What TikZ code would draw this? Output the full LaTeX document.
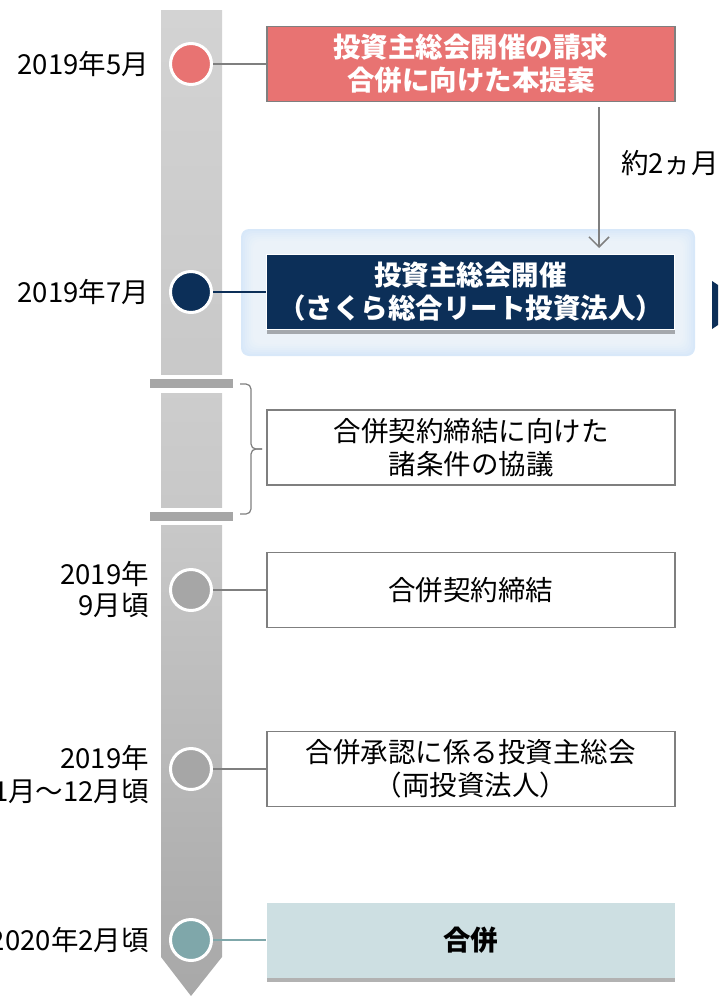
\documentclass[tikz,border=0pt]{standalone}
\usepackage{fontspec}
\setmainfont{Noto Sans CJK JP}
\usetikzlibrary{positioning,arrows.meta,shadows}
\definecolor{salmon}{HTML}{E87372}
\definecolor{navy}{HTML}{0C2F58}
\definecolor{framegray}{HTML}{7F7F7F}
\definecolor{dotgray}{HTML}{A6A6A6}
\definecolor{tealdot}{HTML}{7FA7AA}
\definecolor{mergefill}{HTML}{CDDFE2}
\definecolor{panelblue}{HTML}{D8E8F9}
\definecolor{barlight}{HTML}{D3D3D3}
\definecolor{barmid}{HTML}{C8C8C8}
\definecolor{bardark}{HTML}{A8A8A8}

\begin{document}
\begin{tikzpicture}[x=1pt, y=-1pt, font=\fontsize{27.5}{33}\selectfont, node distance=53pt,
  dot/.style={circle, draw=white, line width=3pt, minimum size=41pt, inner sep=0pt},
  box/.style={rectangle, draw=framegray, line width=1.5pt, minimum width=408pt, minimum height=75pt, align=center, inner sep=2pt},
  datelabel/.style={align=right, inner sep=0pt},
  link/.style={draw=framegray, line width=1.5pt},
  lag/.style={draw=framegray, line width=1.5pt, -{Straight Barb[length=10pt, width=20pt]}},
  lift/.style={drop shadow={shadow xshift=0pt, shadow yshift=-4pt, opacity=0.3, fill=black}}]
  \useasboundingbox (0,0) rectangle (718,996);
  % time bar
  \shade[top color=barlight, bottom color=barlight!95!black] (161,10) rectangle (222,374);
  \shade[top color=barlight!97!black, bottom color=barmid] (161,393) rectangle (222,507);
  \shade[top color=barmid, bottom color=bardark] (161,525) -- (222,525) -- (222,957) -- (191,996) -- (161,957) -- cycle;
  \fill[dotgray] (150,379) rectangle (233,388);
  \fill[dotgray] (150,512) rectangle (233,521);
  % highlight
  \fill[panelblue, rounded corners=8pt] (241,229) rectangle (695,356);
  \foreach \i in {1,...,6}
    \fill[white, opacity=0.12, rounded corners=8pt] (241+2*\i,229+2*\i) rectangle (695-2*\i,356-2*\i);
  \fill[navy] (712,281) -- (718,285) -- (718,325) -- (712,329) -- cycle;

  \node[dot, fill=salmon] (c1) at (191,64) {};
  \node[dot, fill=navy] (c2) at (191,292) {};
  \node[dot, fill=dotgray] (c3) at (191,590) {};
  \node[dot, fill=dotgray] (c4) at (191,769) {};
  \node[dot, fill=tealdot] (c5) at (191,940) {};

  \node[datelabel, left=20pt of c1] (d1) {2019年5月};
  \node[datelabel, left=20pt of c2] (d2) {2019年7月};
  \node[datelabel, left=20pt of c3] (d3) {2019年\\[-2pt]9月頃};
  \node[datelabel, left=20pt of c4, yshift=-5pt] (d4) {2019年\\11月～12月頃};
  \node[datelabel, left=20pt of c5] (d5) {2020年2月頃};

  \node[box, fill=salmon, text=white, font=\fontsize{27.5}{33}\selectfont\bfseries, right=of c1] (b1) {投資主総会開催の請求\\合併に向けた本提案};
  \node[box, fill=navy, draw=white, line width=1pt, text=white, font=\fontsize{27.5}{33}\selectfont\bfseries, lift, right=of c2] (b2) {投資主総会開催\\（さくら総合リート投資法人）};
  \node[box] (b3) at (471,447.5) {合併契約締結に向けた\\諸条件の協議};
  \node[box, right=of c3] (b4) {合併契約締結};
  \node[box, right=of c4] (b5) {合併承認に係る投資主総会\\（両投資法人）};
  \node[box, draw=none, fill=mergefill, font=\fontsize{27.5}{33}\selectfont\bfseries, lift, right=of c5] (b6) {合併};

  \draw[link] (c1) -- (b1);
  \draw[link, draw=navy] (c2) -- (b2);
  \draw[link] (c3) -- (b4);
  \draw[link] (c4) -- (b5);
  \draw[link, draw=tealdot] (c5) -- (b6);

  \coordinate (lagx) at (599,0);
  \draw[lag] ([yshift=-5pt]b1.south -| lagx) -- ([yshift=6pt]b2.north -| lagx) node[pos=0.4, right=18pt] {約2ヵ月};

  % bracket
  \draw[framegray, line width=1.2pt, rounded corners=5pt] (240,384) -- (251,384) -- (251,449) -- (262,449);
  \draw[framegray, line width=1.2pt, rounded corners=5pt] (262,449) -- (251,449) -- (251,514) -- (240,514);
\end{tikzpicture}
\end{document}
